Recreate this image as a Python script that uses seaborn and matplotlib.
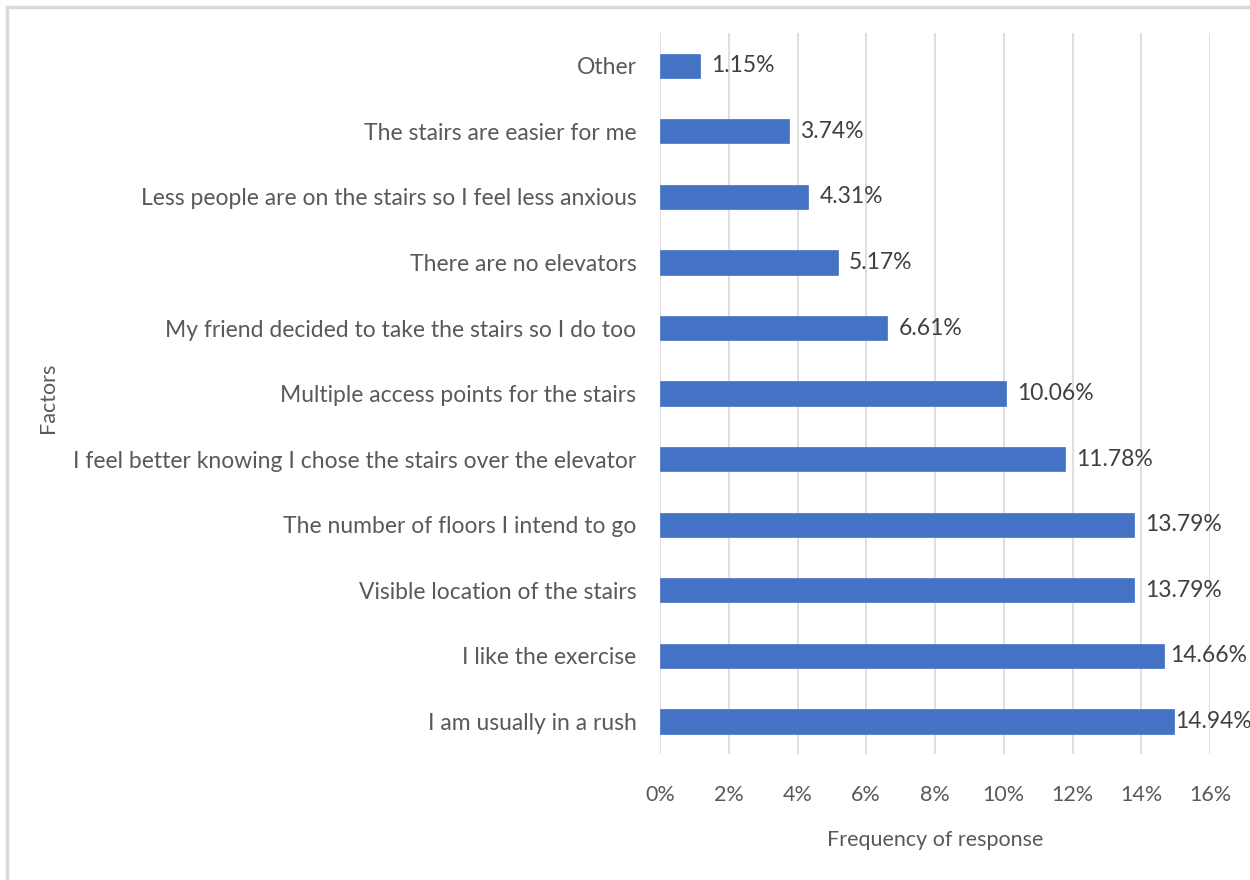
import matplotlib
matplotlib.use("Agg")
import matplotlib.pyplot as plt
import seaborn as sns
import pandas as pd
from matplotlib.patches import Rectangle

categories = [
    "Other",
    "The stairs are easier for me",
    "Less people are on the stairs so I feel less anxious",
    "There are no elevators",
    "My friend decided to take the stairs so I do too",
    "Multiple access points for the stairs",
    "I feel better knowing I chose the stairs over the elevator",
    "The number of floors I intend to go",
    "Visible location of the stairs",
    "I like the exercise",
    "I am usually in a rush",
]
values = [1.15, 3.74, 4.31, 5.17, 6.61, 10.06, 11.78, 13.79, 13.79, 14.66, 14.94]
x_ticks = [0, 2, 4, 6, 8, 10, 12, 14, 16]

df = pd.DataFrame({"Factors": categories, "Frequency": values})

sns.set_theme(style="white")
plt.rcParams["font.family"] = ["Lato", "DejaVu Sans"]
text_color = "#595959"

fig = plt.figure(figsize=(12.5, 8.8), dpi=100)
ax = fig.add_axes([0.528, 0.143, 0.44, 0.8195])

sns.barplot(data=df, y="Factors", x="Frequency", orient="h", color="#4472C4",
            width=0.37, ax=ax, saturation=1, edgecolor="#4472C4", linewidth=0.5)

ax.set_xlim(0, 16)
ax.set_xticks(x_ticks)
ax.set_xticklabels([f"{t}%" for t in x_ticks], fontsize=15.5, color=text_color)
ax.tick_params(axis="y", labelsize=16.5, labelcolor=text_color, length=0, pad=17)
ax.tick_params(axis="x", length=0, pad=22)
ax.set_ylim(len(categories) - 0.5, -0.5)
ax.xaxis.grid(True, color="#d9d9d9", linewidth=1.2)
ax.set_axisbelow(True)
for s in ax.spines.values():
    s.set_visible(False)

ax.set_xlabel("Frequency of response", fontsize=15.5, color=text_color, labelpad=18)
ax.set_ylabel("")
fig.text(0.038, 0.548, "Factors", rotation=90, va="center", ha="center", fontsize=15.5, color=text_color)

# value labels, kept inside the figure like Excel does
renderer = fig.canvas.get_renderer()
limit_px = 1247
for i, v in enumerate(values):
    t = ax.annotate(f"{v:.2f}%", xy=(v, i), xytext=(8, 0), textcoords="offset points",
                    va="center", ha="left", fontsize=16.5, color="#404040")
    bb = t.get_window_extent(renderer)
    if bb.x1 > limit_px:
        shift_pt = (bb.x1 - limit_px) * 72 / fig.dpi
        t.set_position((max(8 - shift_pt, 1), 0))

fig.patches.append(Rectangle((7 / 1250, -0.01), 1.02, 1 - 7 / 880 + 0.01, transform=fig.transFigure,
                             fill=False, edgecolor="#d9d9d9", linewidth=2.5, figure=fig))

fig.savefig("out.png", dpi=100)
